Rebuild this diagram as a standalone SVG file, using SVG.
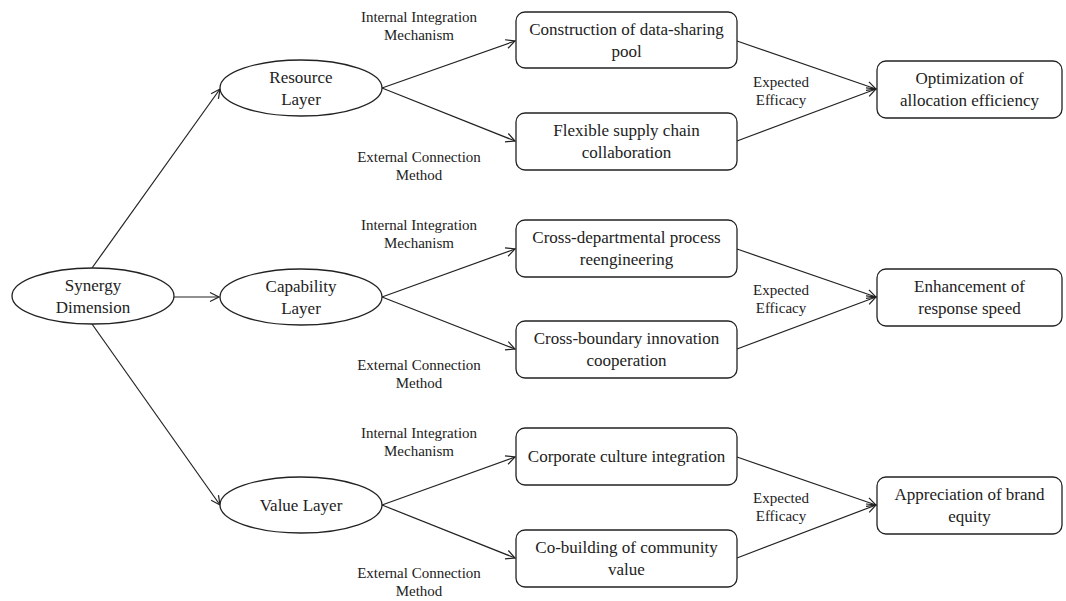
<svg xmlns="http://www.w3.org/2000/svg" width="1066" height="601" viewBox="0 0 1066 601">
<defs>
<marker id="arr" markerWidth="12" markerHeight="12" refX="10" refY="6" orient="auto" markerUnits="userSpaceOnUse">
<path d="M1,1.5 L10,6 L1,10.5" fill="none" stroke="#222" stroke-width="1.2"/>
</marker>
<style>
.e,.b{fill:#fff;stroke:#222;stroke-width:1.3}
.t{font-family:"Liberation Serif","Times New Roman",serif;font-size:17px;fill:#222;text-anchor:middle}
.l{font-family:"Liberation Serif","Times New Roman",serif;font-size:15px;fill:#222;text-anchor:middle}
.c{fill:none;stroke:#222;stroke-width:1.2}
</style>
</defs>
<rect width="1066" height="601" fill="#fff"/>
<g id="connectors">
<line class="c" x1="92" y1="268" x2="220" y2="89" marker-end="url(#arr)"/>
<line class="c" x1="174" y1="297" x2="219" y2="297" marker-end="url(#arr)"/>
<line class="c" x1="92" y1="324" x2="220" y2="505" marker-end="url(#arr)"/>
<line class="c" x1="382" y1="88" x2="515" y2="41" marker-end="url(#arr)"/>
<line class="c" x1="382" y1="88" x2="515" y2="141" marker-end="url(#arr)"/>
<line class="c" x1="737" y1="41" x2="876" y2="89" marker-end="url(#arr)"/>
<line class="c" x1="737" y1="141" x2="876" y2="89" marker-end="url(#arr)"/>
<line class="c" x1="382" y1="297" x2="515" y2="249" marker-end="url(#arr)"/>
<line class="c" x1="382" y1="297" x2="515" y2="349" marker-end="url(#arr)"/>
<line class="c" x1="737" y1="249" x2="876" y2="297" marker-end="url(#arr)"/>
<line class="c" x1="737" y1="349" x2="876" y2="297" marker-end="url(#arr)"/>
<line class="c" x1="382" y1="505" x2="515" y2="457" marker-end="url(#arr)"/>
<line class="c" x1="382" y1="505" x2="515" y2="558" marker-end="url(#arr)"/>
<line class="c" x1="737" y1="457" x2="876" y2="505" marker-end="url(#arr)"/>
<line class="c" x1="737" y1="558" x2="876" y2="505" marker-end="url(#arr)"/>
</g>
<g id="labels">
<text class="l" x="419" y="22">Internal Integration</text>
<text class="l" x="419" y="40">Mechanism</text>
<text class="l" x="419" y="162">External Connection</text>
<text class="l" x="419" y="180">Method</text>
<text class="l" x="781" y="87">Expected</text>
<text class="l" x="781" y="105">Efficacy</text>
<text class="l" x="419" y="230">Internal Integration</text>
<text class="l" x="419" y="248">Mechanism</text>
<text class="l" x="419" y="370">External Connection</text>
<text class="l" x="419" y="388">Method</text>
<text class="l" x="781" y="295">Expected</text>
<text class="l" x="781" y="313">Efficacy</text>
<text class="l" x="419" y="438">Internal Integration</text>
<text class="l" x="419" y="456">Mechanism</text>
<text class="l" x="419" y="578">External Connection</text>
<text class="l" x="419" y="596">Method</text>
<text class="l" x="781" y="503">Expected</text>
<text class="l" x="781" y="521">Efficacy</text>
</g>
<g id="synergy">
<ellipse class="e" cx="93" cy="296" rx="81" ry="28"/>
<text class="t" x="93" y="291">Synergy</text>
<text class="t" x="93" y="313">Dimension</text>
</g>
<g id="resource">
<ellipse class="e" cx="301" cy="88" rx="81" ry="28"/>
<text class="t" x="301" y="83">Resource</text>
<text class="t" x="301" y="105">Layer</text>
</g>
<g id="capability">
<ellipse class="e" cx="301" cy="297" rx="81" ry="28"/>
<text class="t" x="301" y="292">Capability</text>
<text class="t" x="301" y="314">Layer</text>
</g>
<g id="value">
<ellipse class="e" cx="301" cy="505" rx="81" ry="28"/>
<text class="t" x="301" y="511">Value Layer</text>
</g>
<g id="box-data-pool">
<rect class="b" x="516" y="12" width="221" height="56" rx="9"/>
<text class="t" x="626.5" y="35">Construction of data-sharing</text>
<text class="t" x="626.5" y="57">pool</text>
</g>
<g id="box-supply-chain">
<rect class="b" x="516" y="113" width="221" height="57" rx="9"/>
<text class="t" x="626.5" y="136">Flexible supply chain</text>
<text class="t" x="626.5" y="158">collaboration</text>
</g>
<g id="box-allocation">
<rect class="b" x="877" y="61" width="185" height="57" rx="9"/>
<text class="t" x="969.5" y="84">Optimization of</text>
<text class="t" x="969.5" y="106">allocation efficiency</text>
</g>
<g id="box-process">
<rect class="b" x="516" y="220" width="221" height="57" rx="9"/>
<text class="t" x="626.5" y="243">Cross-departmental process</text>
<text class="t" x="626.5" y="265">reengineering</text>
</g>
<g id="box-innovation">
<rect class="b" x="516" y="321" width="221" height="57" rx="9"/>
<text class="t" x="626.5" y="344">Cross-boundary innovation</text>
<text class="t" x="626.5" y="366">cooperation</text>
</g>
<g id="box-response">
<rect class="b" x="877" y="269" width="185" height="57" rx="9"/>
<text class="t" x="969.5" y="292">Enhancement of</text>
<text class="t" x="969.5" y="314">response speed</text>
</g>
<g id="box-culture">
<rect class="b" x="516" y="428" width="221" height="57" rx="9"/>
<text class="t" x="626.5" y="462">Corporate culture integration</text>
</g>
<g id="box-community">
<rect class="b" x="516" y="530" width="221" height="57" rx="9"/>
<text class="t" x="626.5" y="553">Co-building of community</text>
<text class="t" x="626.5" y="575">value</text>
</g>
<g id="box-brand">
<rect class="b" x="877" y="477" width="185" height="57" rx="9"/>
<text class="t" x="969.5" y="500">Appreciation of brand</text>
<text class="t" x="969.5" y="522">equity</text>
</g>
</svg>
